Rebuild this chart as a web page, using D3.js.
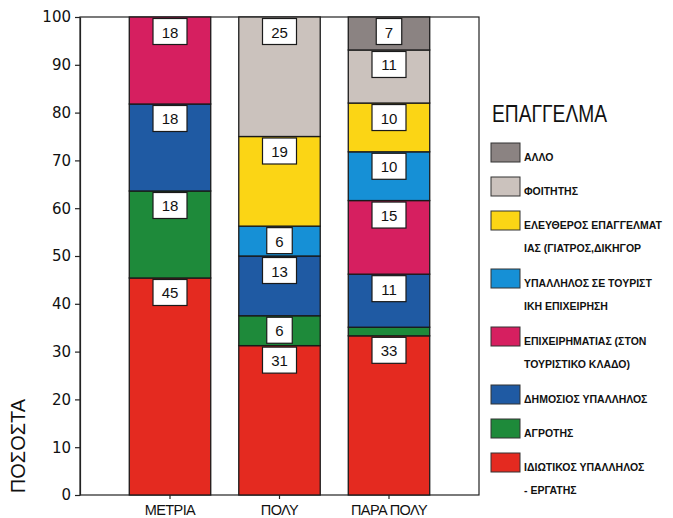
<!DOCTYPE html>
<html>
<head>
<meta charset="utf-8">
<script src="https://cdn.jsdelivr.net/npm/d3@7/dist/d3.min.js"></script>
<style>
  html, body { margin: 0; padding: 0; background: #ffffff; }
  svg { display: block; }
</style>
</head>
<body>
<svg id="chart" width="673" height="518"></svg>
<script>
// ---------------- DATA ----------------
const categories = ["ΜΕΤΡΙΑ", "ΠΟΛΥ", "ΠΑΡΑ ΠΟΛΥ"];
const yTicks = [0, 10, 20, 30, 40, 50, 60, 70, 80, 90, 100];

// series in stacking order (bottom to top)
const seriesKeys = ["idiotikos", "agrotis", "dimosios", "epixeirimatias", "ypallilosTour", "eleftheros", "foititis", "allo"];
const seriesLabels = [
  ["ΙΔΙΩΤΙΚΟΣ ΥΠΑΛΛΗΛΟΣ", "- ΕΡΓΑΤΗΣ"],
  ["ΑΓΡΟΤΗΣ"],
  ["ΔΗΜΟΣΙΟΣ ΥΠΑΛΛΗΛΟΣ"],
  ["ΕΠΙΧΕΙΡΗΜΑΤΙΑΣ (ΣΤΟΝ", "ΤΟΥΡΙΣΤΙΚΟ ΚΛΑΔΟ)"],
  ["ΥΠΑΛΛΗΛΟΣ ΣΕ ΤΟΥΡΙΣΤ", "ΙΚΗ ΕΠΙΧΕΙΡΗΣΗ"],
  ["ΕΛΕΥΘΕΡΟΣ ΕΠΑΓΓΕΛΜΑΤ", "ΙΑΣ (ΓΙΑΤΡΟΣ,ΔΙΚΗΓΟΡ"],
  ["ΦΟΙΤΗΤΗΣ"],
  ["ΑΛΛΟ"]
];
const seriesColors = ["#e42a20", "#1e8a3a", "#1f5aa3", "#d61f60", "#1690d6", "#fbd515", "#cbc2bd", "#8b8382"];

// percentages per category [ΜΕΤΡΙΑ, ΠΟΛΥ, ΠΑΡΑ ΠΟΛΥ]
const idiotikos      = [45.4, 31.25, 33.3];
const agrotis        = [18.2, 6.25, 1.8];
const dimosios       = [18.2, 12.5, 11.1];
const epixeirimatias = [18.2, 0, 15.4];
const ypallilosTour  = [0, 6.25, 10.2];
const eleftheros     = [0, 18.75, 10.2];
const foititis       = [0, 25, 11.1];
const allo           = [0, 0, 6.9];

const legendTitle = "ΕΠΑΓΓΕΛΜΑ";
const yTitle = "ΠΟΣΟΣΤΑ";

// ---------------- BUILD TABLE ----------------
const seriesValues = [idiotikos, agrotis, dimosios, epixeirimatias, ypallilosTour, eleftheros, foititis, allo];
const table = categories.map((c, i) => {
  const row = { cat: c };
  seriesKeys.forEach((k, s) => row[k] = seriesValues[s][i]);
  return row;
});

// ---------------- LAYOUT ----------------
const svg = d3.select("#chart");
const plot = { left: 80, right: 479, top: 17, bottom: 495 };

const x = d3.scaleBand().domain(categories).range([plot.left, plot.right]).paddingInner(0.256).paddingOuter(0.45);
const y = d3.scaleLinear().domain([0, 100]).range([plot.bottom, plot.top]);
const color = d3.scaleOrdinal().domain(seriesKeys).range(seriesColors);

const stacked = d3.stack().keys(seriesKeys)(table);

// frame
svg.append("rect")
  .attr("x", plot.left).attr("y", plot.top)
  .attr("width", plot.right - plot.left).attr("height", plot.bottom - plot.top)
  .attr("fill", "none").attr("stroke", "#222").attr("stroke-width", 1.2);

// bars
const layers = svg.append("g").selectAll("g").data(stacked).join("g")
  .attr("fill", d => color(d.key));

layers.selectAll("rect").data(d => d.map(p => ({ p, key: d.key }))).join("rect")
  .filter(d => d.p[1] - d.p[0] > 0)
  .attr("x", d => x(d.p.data.cat))
  .attr("y", d => y(d.p[1]))
  .attr("width", x.bandwidth())
  .attr("height", d => y(d.p[0]) - y(d.p[1]))
  .attr("stroke", "#1a1a1a").attr("stroke-width", 1.3);

// value labels
const fmt = d3.format(".0f");
const labelG = svg.append("g");
stacked.forEach(layer => {
  layer.forEach(p => {
    const v = p[1] - p[0];
    if (v < 3) return;
    const txt = fmt(v);
    const cx = x(p.data.cat) + x.bandwidth() / 2;
    const top = y(p[1]) + 1.5;
    const w = txt.length * 8.5 + 17;
    labelG.append("rect")
      .attr("x", cx - w / 2).attr("y", top)
      .attr("width", w).attr("height", 26)
      .attr("fill", "#fff").attr("stroke", "#1a1a1a").attr("stroke-width", 1.2);
    labelG.append("text")
      .attr("x", cx).attr("y", top + 13.5)
      .attr("text-anchor", "middle").attr("dominant-baseline", "central")
      .attr("font-family", "Liberation Sans, Arial, sans-serif")
      .attr("font-size", 15).attr("fill", "#111")
      .text(txt);
  });
});

// y axis
const yAxis = d3.axisLeft(y).tickValues(yTicks).tickSize(5).tickSizeOuter(0).tickPadding(4);
const yg = svg.append("g").attr("transform", `translate(${plot.left},0)`).call(yAxis);
yg.select(".domain").attr("stroke", "#222").attr("stroke-width", 1.2);
yg.selectAll(".tick line").attr("stroke", "#222").attr("stroke-width", 1.2);
yg.selectAll(".tick text")
  .attr("font-family", "DejaVu Sans, sans-serif")
  .attr("font-size", 15).attr("fill", "#111");

// x axis
const xAxis = d3.axisBottom(x).tickSize(4).tickSizeOuter(0).tickPadding(6);
const xg = svg.append("g").attr("transform", `translate(0,${plot.bottom})`).call(xAxis);
xg.select(".domain").remove();
xg.selectAll(".tick line").attr("stroke", "#222").attr("stroke-width", 1.2);
xg.selectAll(".tick text")
  .attr("font-family", "Liberation Sans, Arial, sans-serif")
  .attr("font-size", 14.5).attr("fill", "#111")
  .attr("letter-spacing", -0.6);

// y title
svg.append("text")
  .attr("transform", "translate(25,446) rotate(-90)")
  .attr("text-anchor", "middle")
  .attr("font-family", "Liberation Sans, Arial, sans-serif")
  .attr("font-size", 20).attr("fill", "#111")
  .text(yTitle);

// legend
svg.append("text")
  .attr("x", 492).attr("y", 122)
  .attr("font-family", "Liberation Sans, Arial, sans-serif")
  .attr("font-size", 23).attr("fill", "#111")
  .attr("textLength", 115).attr("lengthAdjust", "spacingAndGlyphs")
  .text(legendTitle);

const legendOrder = d3.range(seriesKeys.length).reverse();
let ly = 143;
const lg = svg.append("g");
legendOrder.forEach(i => {
  const lines = seriesLabels[i];
  lg.append("rect")
    .attr("x", 491).attr("y", ly).attr("width", 29).attr("height", 19)
    .attr("fill", seriesColors[i]).attr("stroke", "#333").attr("stroke-width", 1);
  lines.forEach((t, j) => {
    lg.append("text")
      .attr("x", 524).attr("y", ly + 18 + j * 23)
      .attr("font-family", "Liberation Sans, Arial, sans-serif")
      .attr("font-size", 10.5).attr("font-weight", "bold").attr("fill", "#111")
      .text(t);
  });
  ly += 34 + (lines.length - 1) * 24;
});
</script>
</body>
</html>
